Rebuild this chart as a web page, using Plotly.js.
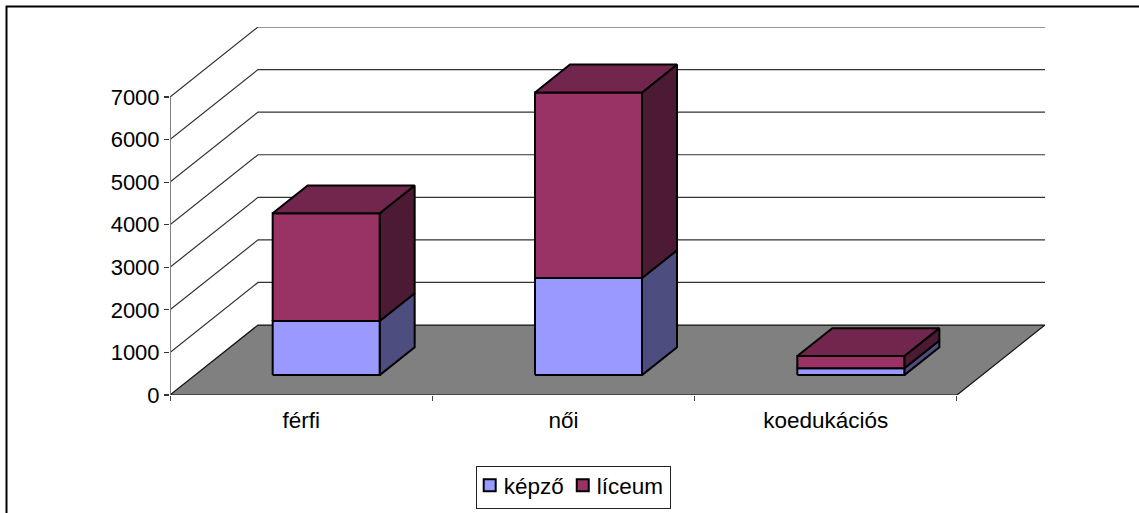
<!DOCTYPE html>
<html><head><meta charset="utf-8">
<script src="https://cdn.plot.ly/plotly-3.0.1.min.js"></script>
<style>html,body{margin:0;padding:0;background:#fff;overflow:hidden}</style>
</head><body><div id="chart" style="width:1139px;height:513px"></div>
<script>
const categories = ["férfi", "női", "koedukációs"];
const kepzo = [1270, 2280, 160];
const liceum = [2530, 4360, 290];
const yTicks = [0, 1000, 2000, 3000, 4000, 5000, 6000, 7000];
const seriesNames = ["képző", "líceum"];

// oblique projection of the Excel-style 3-D box
const W = 1139, H = 513;
const PX_X = 262.33, PX_Y = 0.0426;           // px per category, px per value unit
const DX = 88 / PX_X, DY = 70 / PX_Y;         // full floor depth in axis units
const L = 170, R = 1045, B = 395, T = 27;
const D0 = 25 / 88, D1 = 60 / 88, BAR = 107 / PX_X;
const px = (c, d) => c + d * DX;
const py = (v, d) => v + d * DY;
const n = categories.length, vMax = yTicks[yTicks.length - 1];

function poly(pts) { return { x: pts.map(p => px(p[0], p[2])), y: pts.map(p => py(p[1], p[2])) }; }
function merge(list, closed) {
  const x = [], y = [];
  list.forEach(q => {
    x.push(...q.x, ...(closed ? [q.x[0]] : []), null);
    y.push(...q.y, ...(closed ? [q.y[0]] : []), null);
  });
  return { x, y };
}
function face(list, fill) {
  const m = merge(list, true);
  return { type: "scatter", mode: "lines", x: m.x, y: m.y, fill: "toself", fillcolor: fill,
    line: { color: "#000", width: 2 }, hoverinfo: "skip", showlegend: false };
}
function frontFace(c0, c1, v0, v1) { return poly([[c0, v0, D0], [c1, v0, D0], [c1, v1, D0], [c0, v1, D0]]); }
function sideFace(c1, v0, v1) { return poly([[c1, v0, D0], [c1, v0, D1], [c1, v1, D1], [c1, v1, D0]]); }
function topFace(c0, c1, v) { return poly([[c0, v, D0], [c1, v, D0], [c1, v, D1], [c0, v, D1]]); }

const traces = [];
// floor
traces.push({ type: "scatter", mode: "lines",
  ...(() => { const q = poly([[0, 0, 0], [n, 0, 0], [n, 0, 1], [0, 0, 1]]); return { x: [...q.x, q.x[0]], y: [...q.y, q.y[0]] }; })(),
  fill: "toself", fillcolor: "#808080", line: { color: "#111", width: 1.2 }, hoverinfo: "skip", showlegend: false });
// wall gridlines
const grid = yTicks.slice(1).map(v => poly([[0, v, 0], [0, v, 1], [n, v, 1]]));
const gm = merge(grid, false);
traces.push({ type: "scatter", mode: "lines", x: gm.x, y: gm.y, line: { color: "#333", width: 1.2 }, hoverinfo: "skip", showlegend: false });
// vertical value axis line
traces.push({ type: "scatter", mode: "lines", x: [0, 0], y: [0, vMax], line: { color: "#808080", width: 2 }, hoverinfo: "skip", showlegend: false });
// bars, back to front per bar
categories.forEach((cat, i) => {
  const c0 = i + 0.5 - BAR / 2, c1 = i + 0.5 + BAR / 2;
  const a = kepzo[i], b = a + liceum[i];
  traces.push(face([sideFace(c1, 0, a)], "#4D4D80"));
  traces.push(face([frontFace(c0, c1, 0, a)], "#9999FF"));
  traces.push(face([sideFace(c1, a, b)], "#4D1A33"));
  traces.push(face([frontFace(c0, c1, a, b)], "#993366"));
  traces.push(face([topFace(c0, c1, b)], "#73264D"));
});
// legend entries
[["#9999FF", seriesNames[0]], ["#993366", seriesNames[1]]].forEach(e => {
  traces.push({ type: "scatter", mode: "markers", x: [null], y: [null], name: e[1],
    marker: { symbol: "square", size: 12, color: e[0], line: { color: "#000", width: 2 } } });
});

const xRange = [0, (R - L) / PX_X];
const yRange = [0, vMax + DY];
const layout = {
  width: W, height: H, margin: { l: 0, r: 0, t: 0, b: 0, autoexpand: false },
  paper_bgcolor: "#fff", plot_bgcolor: "rgba(0,0,0,0)", showlegend: true,
  font: { family: "Liberation Sans, Arial, sans-serif", size: 22, color: "#000" },
  xaxis: { domain: [L / W, R / W], range: xRange, showgrid: false, zeroline: false, showline: false,
    tickmode: "array", tickvals: categories.map((c, i) => i + 0.5), ticktext: categories, ticks: "", ticklen: 0,
    ticklabelstandoff: 9, tickfont: { size: 22.5 }, automargin: false,
    minor: { tickmode: "array", tickvals: [0, 1, 2, 3], ticks: "outside", ticklen: 5, tickcolor: "#444", tickwidth: 1, showgrid: false } },
  yaxis: { domain: [(H - B) / H, (H - T) / H], range: yRange, showgrid: false, zeroline: false, showline: false, automargin: false,
    tickmode: "array", tickvals: yTicks, ticks: "outside", ticklen: 5, tickcolor: "#333", tickwidth: 1.2, ticklabelstandoff: 0 },
  legend: { orientation: "h", x: 476 / W, xanchor: "left", y: 1 - 466 / H, yanchor: "top",
    bordercolor: "#222", borderwidth: 1.2, bgcolor: "#fff", font: { size: 22.5 }, indentation: -12, itemwidth: 30 },
  shapes: [{ type: "rect", xref: "paper", yref: "paper",
    x0: 6.5 / W, x1: 1150 / W, y0: -20 / H, y1: 1 - 6.5 / H,
    line: { color: "#000", width: 2 }, fillcolor: "rgba(0,0,0,0)", layer: "above" }]
};
Plotly.newPlot("chart", traces, layout, { displayModeBar: false, staticPlot: true }).then(gd => {
  // tighten the legend box to the reference's proportions
  const bg = gd.querySelector(".legend rect.bg");
  if (bg) bg.setAttribute("height", 42);
  const box = gd.querySelector(".legend .scrollbox");
  if (box) box.setAttribute("transform", "translate(0,-3)");
  gd.querySelectorAll(".legend .legendsymbols").forEach(s => s.setAttribute("transform", "translate(4.5,0)"));
  gd.querySelectorAll(".legend .legendtext").forEach(t => t.setAttribute("transform", "translate(-1.5,0)"));
});
</script></body></html>
